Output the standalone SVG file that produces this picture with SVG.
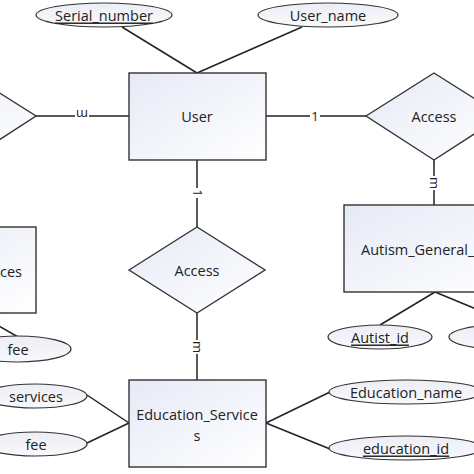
<svg xmlns="http://www.w3.org/2000/svg" width="474" height="474" viewBox="0 0 474 474">
<defs>
<linearGradient id="g" x1="0" y1="0" x2="1" y2="1">
<stop offset="0" stop-color="#e6eaf6"/>
<stop offset="1" stop-color="#ffffff"/>
</linearGradient>
<linearGradient id="ge" x1="0" y1="0" x2="0" y2="1">
<stop offset="0" stop-color="#eceef5"/>
<stop offset="1" stop-color="#f8f9fc"/>
</linearGradient>
</defs>
<style>
.ent{fill:url(#g);stroke:#333;stroke-width:1.4}
.rel{fill:url(#g);stroke:#333;stroke-width:1.4}
.att{fill:url(#ge);stroke:#333;stroke-width:1.2}
.ln{stroke:#222;stroke-width:1.5;fill:none}
text{font-family:"Open Sans","Noto Sans",sans-serif;font-size:14.5px;fill:#222;text-anchor:middle;dominant-baseline:central}
.key{text-decoration:underline}
.card{font-size:13px}
</style>
<rect width="474" height="474" fill="#ffffff"/>
<g id="connectors">
<line class="ln" x1="122" y1="27" x2="197" y2="73"/>
<line class="ln" x1="302" y1="27" x2="197" y2="73"/>
<line class="ln" x1="36" y1="116" x2="129" y2="116"/>
<line class="ln" x1="266" y1="116" x2="366" y2="116"/>
<line class="ln" x1="434" y1="160" x2="434" y2="205"/>
<line class="ln" x1="197" y1="160" x2="197" y2="227"/>
<line class="ln" x1="197" y1="313" x2="197" y2="380"/>
<line class="ln" x1="435" y1="292" x2="380" y2="325"/>
<line class="ln" x1="435" y1="292" x2="515" y2="325"/>
<line class="ln" x1="-10" y1="321" x2="18" y2="337"/>
<line class="ln" x1="129" y1="423" x2="87" y2="395"/>
<line class="ln" x1="129" y1="423" x2="87" y2="443"/>
<line class="ln" x1="266" y1="423" x2="330" y2="392"/>
<line class="ln" x1="266" y1="423" x2="330" y2="449"/>
<rect x="75" y="108" width="14" height="14" fill="#fff"/>
<text class="card" transform="translate(82,115) rotate(180)">m</text>
<rect x="310" y="108" width="10" height="14" fill="#fff"/>
<text class="card" x="315" y="116">1</text>
<rect x="427" y="176" width="14" height="14" fill="#fff"/>
<text class="card" transform="translate(435,183) rotate(90)">m</text>
<rect x="190" y="188" width="14" height="10" fill="#fff"/>
<text class="card" transform="translate(198,193) rotate(90)">1</text>
<rect x="190" y="340" width="14" height="14" fill="#fff"/>
<text class="card" transform="translate(198,347) rotate(90)">m</text>
</g>
<g id="attr-serial"><ellipse class="att" cx="104" cy="15" rx="68" ry="12"/><text class="key" x="104" y="15">Serial_number</text></g>
<g id="attr-username"><ellipse class="att" cx="328" cy="15" rx="70" ry="12"/><text x="328" y="15">User_name</text></g>
<g id="user"><rect class="ent" x="129" y="73" width="137" height="87"/><text x="197" y="116">User</text></g>
<g id="rel-left"><polygon class="rel" points="-100,116 -32,73 36,116 -32,160"/></g>
<g id="rel-access-right"><polygon class="rel" points="366,116 434,73 502,116 434,160"/><text x="434" y="116">Access</text></g>
<g id="autism"><rect class="ent" x="344" y="205" width="180" height="87"/><text x="361" y="249" style="text-anchor:start">Autism_General_</text></g>
<g id="attr-autist"><ellipse class="att" cx="380" cy="337" rx="52" ry="12"/><text class="key" x="380" y="337">Autist_id</text></g>
<g id="attr-right"><ellipse class="att" cx="501" cy="337" rx="52" ry="12"/></g>
<g id="rel-access-mid"><polygon class="rel" points="129,270 197,227 265,270 197,313"/><text x="197" y="270">Access</text></g>
<g id="left-entity"><rect class="ent" x="-101" y="227" width="137" height="86"/><text x="22" y="271" style="text-anchor:end">ces</text></g>
<g id="attr-fee1"><ellipse class="att" cx="18" cy="349" rx="53" ry="13"/><text x="18" y="349">fee</text></g>
<g id="edu"><rect class="ent" x="129" y="380" width="137" height="87"/><text x="197" y="414">Education_Service</text><text x="197" y="435">s</text></g>
<g id="attr-services"><ellipse class="att" cx="35" cy="396" rx="52" ry="12"/><text x="36" y="396">services</text></g>
<g id="attr-fee2"><ellipse class="att" cx="35" cy="444" rx="52" ry="12"/><text x="36" y="444">fee</text></g>
<g id="attr-eduname"><ellipse class="att" cx="406" cy="392" rx="77" ry="12"/><text x="406" y="392">Education_name</text></g>
<g id="attr-eduid"><ellipse class="att" cx="406" cy="448" rx="77" ry="12"/><text class="key" x="406" y="448">education_id</text></g>
</svg>
